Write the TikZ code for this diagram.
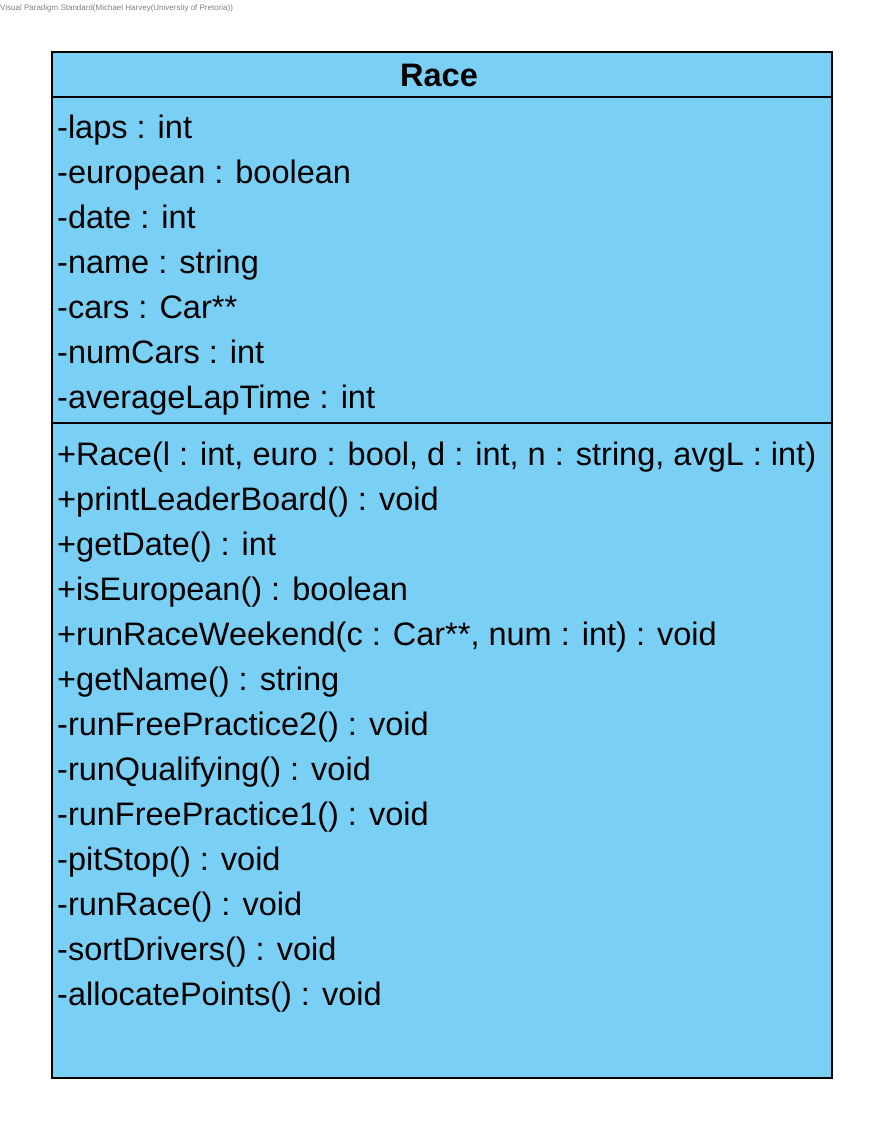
\documentclass[tikz,border=0pt]{standalone}
\usepackage{fontspec}
\setmainfont{Liberation Sans}
\definecolor{classfill}{RGB}{122,207,244}
\begin{document}
\begin{tikzpicture}[x=1pt,y=-1pt,
  member/.style={anchor=base west,inner sep=0pt,font=\fontsize{32.5}{32.5}\selectfont},
  title/.style={anchor=base,inner sep=0pt,font=\fontsize{32.5}{32.5}\selectfont\bfseries},
  border/.style={line width=2.4pt,draw=black}]
\useasboundingbox (0,0) rectangle (882,1128);
% watermark line
\node[anchor=base west,inner sep=0pt,text=gray,font=\fontsize{8}{8}\selectfont] (wm) at (0,10)
  {Visual Paradigm Standard(Michael Harvey(University of Pretoria))};
% class box
\node[border,fill=classfill,minimum width=780pt,minimum height=1026pt,inner sep=0pt,anchor=north west] (box) at (51,51) {};
\draw[border] (box.west |- 0,97) -- (box.east |- 0,97);
\draw[border] (box.west |- 0,423) -- (box.east |- 0,423);
\node[title] (name) at (439,86) {Race};
% attributes
\foreach \t [count=\i] in {{-laps : int},{-european : boolean},{-date : int},{-name : string},{-cars : Car**},{-numCars : int},{-averageLapTime : int}}
  \node[member] (a\i) at (57,93+45*\i) {\t};
% operations
\foreach \t [count=\i] in {{+Race(l : int, euro : bool, d : int, n : string, avgL : int)},{+printLeaderBoard() : void},{+getDate() : int},{+isEuropean() : boolean},{+runRaceWeekend(c : Car**, num : int) : void},{+getName() : string},{-runFreePractice2() : void},{-runQualifying() : void},{-runFreePractice1() : void},{-pitStop() : void},{-runRace() : void},{-sortDrivers() : void},{-allocatePoints() : void}}
  \node[member] (m\i) at (57,420+45*\i) {\t};
\end{tikzpicture}
\end{document}
